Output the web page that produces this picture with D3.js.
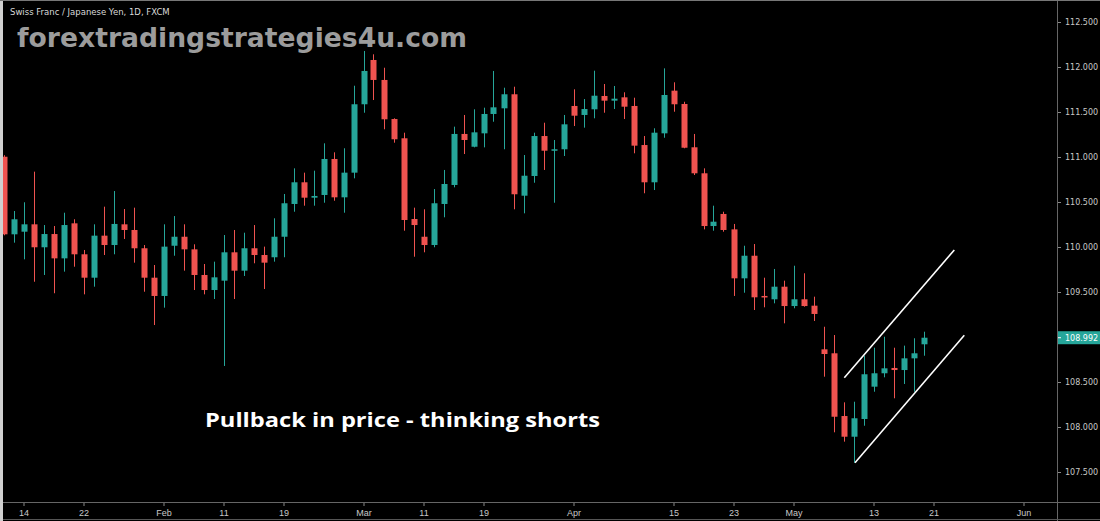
<!DOCTYPE html>
<html>
<head>
<meta charset="utf-8">
<script src="https://cdn.jsdelivr.net/npm/d3@7"></script>
<style>
  html, body { margin: 0; padding: 0; background: #000; }
  #chart { width: 1100px; height: 521px; }
</style>
</head>
<body>
<div id="chart"></div>
<script>
/* global d3 */

// CHF/JPY daily candles, 10 Jan 2019 .. 20 May 2019 (weekdays only)
const firstDay = '2019-01-10';
const opens = [
  111.003, 110.141, 110.170, 110.252, 109.997, 110.144, 109.874, 110.263, 109.919, 109.659,
  110.126, 110.022, 110.252, 110.189, 109.986, 109.659, 109.456, 110.014, 110.114, 109.974,
  109.689, 109.522, 109.626, 109.941, 109.737, 109.986, 109.911, 109.886, 110.114, 110.478,
  110.719, 110.548, 110.578, 110.978, 110.552, 110.826, 111.586, 112.078, 111.856, 111.422,
  111.208, 110.311, 110.114, 110.022, 110.478, 110.689, 111.256, 111.114, 111.263, 111.478,
  111.541, 111.697, 110.570, 110.789, 111.233, 111.070, 111.086, 111.567, 111.467, 111.530,
  111.678, 111.626, 111.663, 111.567, 111.133, 110.719, 111.263, 111.737, 111.589, 111.108,
  110.819, 110.233, 110.367, 110.196, 109.652, 109.903, 109.456, 109.419, 109.559, 109.344,
  109.419, 109.348, 108.863, 108.819, 108.122, 107.892, 108.089, 108.448, 108.597, 108.656,
  108.633, 108.763, 108.919
];
const highs = [
  111.020, 110.400, 110.497, 110.837, 110.244, 110.233, 110.381, 110.308, 109.967, 110.252,
  110.448, 110.622, 110.422, 110.437, 110.022, 109.800, 110.252, 110.344, 110.252, 110.030,
  109.811, 109.837, 110.133, 110.189, 110.159, 110.244, 110.004, 110.319, 110.589, 110.874,
  110.826, 110.848, 111.152, 111.052, 111.097, 111.792, 112.178, 112.141, 111.992, 111.430,
  111.270, 110.437, 110.419, 110.644, 110.856, 111.337, 111.467, 111.530, 111.548, 111.956,
  111.770, 111.781, 111.022, 111.270, 111.381, 111.189, 111.467, 111.752, 111.644, 111.959,
  111.811, 111.789, 111.719, 111.659, 111.233, 111.319, 111.985, 111.830, 111.614, 111.256,
  110.874, 110.459, 110.392, 110.256, 110.014, 110.033, 109.659, 109.756, 109.626, 109.792,
  109.708, 109.448, 109.114, 109.022, 108.274, 108.281, 108.792, 108.881, 109.003, 108.881,
  108.904, 108.986, 109.059
];
const lows = [
  110.130, 110.048, 109.863, 109.614, 109.689, 109.486, 109.726, 109.781, 109.474, 109.559,
  109.911, 109.919, 110.089, 109.826, 109.503, 109.133, 109.326, 109.903, 109.737, 109.522,
  109.474, 109.422, 108.678, 109.422, 109.678, 109.819, 109.533, 109.837, 109.886, 110.392,
  110.459, 110.459, 110.492, 110.514, 110.381, 110.763, 111.492, 111.633, 111.308, 111.159,
  110.181, 109.892, 109.941, 109.997, 110.330, 110.663, 111.033, 111.107, 111.107, 111.392,
  111.086, 110.419, 110.374, 110.714, 110.856, 110.492, 111.011, 111.344, 111.326, 111.430,
  111.492, 111.533, 111.422, 111.041, 110.597, 110.633, 111.214, 111.503, 111.097, 110.800,
  110.196, 110.181, 110.170, 109.456, 109.492, 109.300, 109.330, 109.374, 109.152, 109.319,
  109.337, 109.178, 108.559, 107.941, 107.837, 107.603, 108.014, 108.392, 108.552, 108.319,
  108.478, 108.392, 108.792
];
const closes = [
  110.141, 110.308, 110.252, 109.997, 110.144, 109.874, 110.244, 109.919, 109.659, 110.126,
  110.022, 110.256, 110.189, 109.986, 109.659, 109.456, 110.004, 110.114, 109.974, 109.689,
  109.522, 109.663, 109.941, 109.737, 109.986, 109.911, 109.826, 110.114, 110.486, 110.719,
  110.548, 110.567, 110.978, 110.552, 110.826, 111.586, 111.956, 111.856, 111.419, 111.197,
  110.300, 110.244, 110.022, 110.486, 110.700, 111.256, 111.189, 111.274, 111.478, 111.552,
  111.697, 110.586, 110.792, 111.233, 111.070, 111.086, 111.363, 111.459, 111.533, 111.681,
  111.626, 111.648, 111.559, 111.126, 110.719, 111.270, 111.689, 111.586, 111.103, 110.819,
  110.233, 110.281, 110.189, 109.652, 109.903, 109.441, 109.441, 109.559, 109.344, 109.419,
  109.344, 109.256, 108.811, 108.114, 107.892, 108.097, 108.586, 108.597, 108.652, 108.633,
  108.763, 108.819, 108.992
];

// axis labels
const priceTicks = [107.5, 108, 108.5, 109, 109.5, 110, 110.5, 111, 111.5, 112, 112.5];
const dateTickDays = ['2019-01-14', '2019-01-22', '2019-02-01', '2019-02-11', '2019-02-19', '2019-03-01',
  '2019-03-11', '2019-03-19', '2019-04-01', '2019-04-15', '2019-04-23', '2019-05-01', '2019-05-13',
  '2019-05-21', '2019-06-03'];
const dateTickLabels = ['14', '22', 'Feb', '11', '19', 'Mar', '11', '19', 'Apr', '15', '23', 'May', '13', '21', 'Jun'];

// drawn channel: [trading-day index, price]
const channelUpper = [[82.08, 108.548], [93.08, 109.967]];
const channelLower = [[83.15, 107.603], [94.08, 109.019]];

const title = 'Swiss Franc / Japanese Yen, 1D, FXCM';
const watermark = 'forextradingstrategies4u.com';
const note = 'Pullback in price - thinking shorts';

const width = 1100;
const height = 521;
const axisX = 1057;
const axisY = 502;
const up = '#26a69a';
const down = '#ef5350';

// count weekdays from Jan 14 (trading-day index used as the x domain)
const origin = new Date('2019-01-14T00:00:00Z');
function dayIndex(str) {
  const d = new Date(str + 'T00:00:00Z');
  const step = d >= origin ? 1 : -1;
  let n = 0;
  const cur = new Date(origin);
  while (cur.getTime() !== d.getTime()) {
    cur.setUTCDate(cur.getUTCDate() + step);
    const wd = cur.getUTCDay();
    if (wd !== 0 && wd !== 6) n += step;
  }
  return n;
}

const start = dayIndex(firstDay);
const candles = opens.map((o, i) => ({
  i: start + i, o, h: highs[i], l: lows[i], c: closes[i],
}));

const x = d3.scaleLinear().domain([0, 100]).range([23.5, 1023.5]);
const y = d3.scaleLinear().domain([107.5, 112.5]).range([472, 22]);

const svg = d3.select('#chart').append('svg')
  .attr('width', width)
  .attr('height', height)
  .style('background', '#000')
  .style('display', 'block');

svg.append('defs').append('clipPath').attr('id', 'plot')
  .append('rect').attr('x', 0).attr('y', 0).attr('width', axisX).attr('height', axisY);

const plot = svg.append('g').attr('clip-path', 'url(#plot)');

// wicks
plot.selectAll('line.wick').data(candles).join('line')
  .attr('class', 'wick')
  .attr('x1', (d) => Math.round(x(d.i)) + 0.5)
  .attr('x2', (d) => Math.round(x(d.i)) + 0.5)
  .attr('y1', (d) => y(d.h))
  .attr('y2', (d) => y(d.l))
  .attr('stroke', (d) => (d.c >= d.o ? up : down))
  .attr('stroke-width', 1);

// bodies
plot.selectAll('rect.body').data(candles).join('rect')
  .attr('class', 'body')
  .attr('x', (d) => Math.round(x(d.i)) - 2.5)
  .attr('width', 6)
  .attr('y', (d) => y(Math.max(d.o, d.c)))
  .attr('height', (d) => Math.max(1.5, Math.abs(y(d.o) - y(d.c))))
  .attr('fill', (d) => (d.c >= d.o ? up : down));

// channel lines
const line = d3.line().x((d) => x(d[0])).y((d) => y(d[1]));
[channelUpper, channelLower].forEach((pts) => {
  plot.append('path').attr('d', line(pts))
    .attr('fill', 'none').attr('stroke', '#fff').attr('stroke-width', 1.6);
});

// right price axis
const yAxis = svg.append('g')
  .attr('transform', `translate(${axisX},0)`)
  .call(d3.axisRight(y).tickValues(priceTicks).tickFormat(d3.format('.3f')).tickSize(4).tickPadding(4));
yAxis.select('.domain').remove();
yAxis.selectAll('.tick line').attr('stroke', '#888');
yAxis.selectAll('.tick text')
  .attr('fill', '#c8c8c8')
  .style('font-family', '"DejaVu Sans", sans-serif')
  .style('font-size', '8px');

// bottom time axis
const xAxis = svg.append('g')
  .attr('transform', `translate(0,${axisY})`)
  .call(d3.axisBottom(x).tickValues(dateTickDays.map(dayIndex))
    .tickFormat((d, i) => dateTickLabels[i]).tickSize(4).tickPadding(4));
xAxis.select('.domain').remove();
xAxis.selectAll('.tick line').attr('stroke', '#888');
xAxis.selectAll('.tick text')
  .attr('fill', '#c8c8c8')
  .style('font-family', '"Liberation Sans Narrow", "Liberation Sans", sans-serif')
  .style('font-size', '9px');

// frame lines
svg.append('line').attr('x1', 0).attr('x2', width).attr('y1', axisY + 0.5).attr('y2', axisY + 0.5)
  .attr('stroke', '#666');
svg.append('line').attr('x1', axisX + 0.5).attr('x2', axisX + 0.5).attr('y1', 0).attr('y2', height)
  .attr('stroke', '#666');
svg.append('line').attr('x1', 0).attr('x2', width).attr('y1', 519.5).attr('y2', 519.5)
  .attr('stroke', '#555');
svg.append('rect').attr('x', 0).attr('y', 0).attr('width', 3).attr('height', height).attr('fill', '#d0d0d0');
svg.append('rect').attr('x', 0).attr('y', 0).attr('width', width).attr('height', 1).attr('fill', '#777');

// last price label
const last = closes[closes.length - 1];
const ly = y(last);
svg.append('rect').attr('x', axisX + 1).attr('y', ly - 6.5).attr('width', width - axisX - 1).attr('height', 13)
  .attr('fill', up);
svg.append('line').attr('x1', axisX + 1).attr('x2', axisX + 4).attr('y1', ly).attr('y2', ly)
  .attr('stroke', '#fff');
svg.append('text').attr('x', axisX + 8).attr('y', ly).attr('dy', '0.35em')
  .attr('fill', '#fff')
  .style('font-family', '"DejaVu Sans", sans-serif')
  .style('font-size', '8px')
  .text(d3.format('.3f')(last));

// texts
svg.append('text').attr('x', 10).attr('y', 15)
  .attr('fill', '#d8d8d8')
  .style('font-family', '"DejaVu Sans", sans-serif')
  .style('font-size', '8.5px')
  .text(title);

svg.append('text').attr('x', 17).attr('y', 47)
  .attr('fill', '#9c9c9c')
  .attr('textLength', 450)
  .attr('lengthAdjust', 'spacingAndGlyphs')
  .style('font-family', '"DejaVu Sans", sans-serif')
  .style('font-weight', 'bold')
  .style('font-size', '27px')
  .text(watermark);

svg.append('text').attr('x', 205).attr('y', 427)
  .attr('fill', '#fff')
  .attr('textLength', 395)
  .attr('lengthAdjust', 'spacingAndGlyphs')
  .style('font-family', '"Open Sans", "DejaVu Sans", sans-serif')
  .style('font-weight', 'bold')
  .style('font-size', '20px')
  .text(note);
</script>
</body>
</html>
